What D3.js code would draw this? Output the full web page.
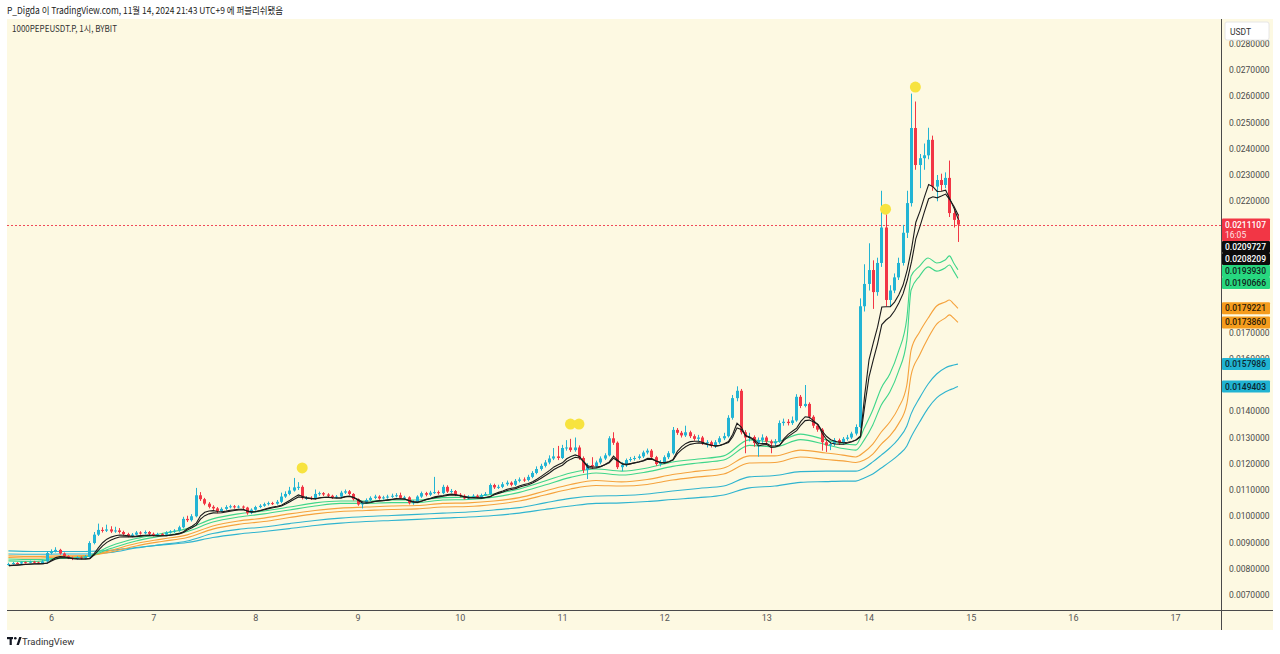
<!DOCTYPE html>
<html><head><meta charset="utf-8">
<script src="https://cdn.jsdelivr.net/npm/d3@7"></script>
<style>
html,body{margin:0;padding:0;background:#fff;}
svg{display:block;font-family:Roboto,"Noto Sans","Noto Sans CJK KR",sans-serif;}
</style></head><body>
<svg id="c" width="1280" height="654"></svg>
<script>
// ---------- DATA (hourly candles, hour 0 = Nov 6 00:00, UTC+9) ----------
const startHour = -10;
const firstOpen = 0.00815;
const closes = [
0.00818,0.00822,0.00820,0.00825,0.00823,0.00827,0.00824,0.00822,0.00828,0.00860,0.00866,0.00872,
0.00858,0.00848,0.00842,0.00838,0.00843,0.00840,0.00846,0.00898,0.00930,0.00948,0.00945,0.00950,
0.00942,0.00946,0.00940,0.00932,0.00925,0.00930,0.00938,0.00935,0.00940,0.00933,0.00928,0.00932,
0.00930,0.00938,0.00942,0.00945,0.00958,0.00990,0.00985,0.01000,0.01080,0.01065,0.01048,0.01036,
0.01030,0.01020,0.01028,0.01035,0.01038,0.01034,0.01037,0.01033,0.01012,0.01025,0.01035,0.01040,
0.01046,0.01050,0.01048,0.01055,0.01075,0.01085,0.01098,0.01110,0.01112,0.01070,0.01070,0.01068,
0.01085,0.01088,0.01083,0.01078,0.01072,0.01075,0.01090,0.01095,0.01085,0.01065,0.01045,0.01052,
0.01062,0.01070,0.01075,0.01068,0.01072,0.01075,0.01078,0.01080,0.01070,0.01072,0.01050,0.01055,
0.01075,0.01088,0.01082,0.01090,0.01092,0.01088,0.01112,0.01094,0.01096,0.01082,0.01078,0.01068,
0.01075,0.01078,0.01072,0.01080,0.01085,0.01119,0.01110,0.01112,0.01122,0.01128,0.01120,0.01135,
0.01140,0.01138,0.01150,0.01165,0.01180,0.01192,0.01205,0.01220,0.01228,0.01222,0.01260,0.01262,
0.01252,0.01262,0.01222,0.01176,0.01195,0.01190,0.01205,0.01220,0.01232,0.01297,0.01280,0.01187,
0.01195,0.01214,0.01218,0.01222,0.01228,0.01243,0.01250,0.01225,0.01199,0.01205,0.01225,0.01240,
0.01329,0.01318,0.01308,0.01320,0.01305,0.01295,0.01300,0.01280,0.01282,0.01268,0.01282,0.01297,
0.01305,0.01375,0.01450,0.01478,0.01320,0.01300,0.01302,0.01279,0.01290,0.01300,0.01285,0.01278,
0.01285,0.01355,0.01360,0.01355,0.01365,0.01455,0.01420,0.01428,0.01379,0.01345,0.01330,0.01282,
0.01270,0.01275,0.01290,0.01280,0.01295,0.01300,0.01315,0.01340,0.01800,0.01885,0.01938,0.01854,
0.01965,0.02100,0.01824,0.01860,0.01910,0.01965,0.02080,0.02193,0.02479,0.02338,0.02364,0.02375,
0.02434,0.02256,0.02281,0.02262,0.02289,0.02155,0.02129,0.0211107];
const highs = [
0.00823,0.00826,0.00825,0.00829,0.00828,0.00831,0.00830,0.00827,0.00834,0.00866,0.00874,0.00882,
0.00876,0.00862,0.00851,0.00846,0.00848,0.00847,0.00852,0.00905,0.00940,0.00972,0.00958,0.00968,
0.00962,0.00960,0.00955,0.00945,0.00937,0.00936,0.00944,0.00943,0.00946,0.00944,0.00938,0.00937,
0.00936,0.00943,0.00947,0.00951,0.00964,0.00998,0.01002,0.01008,0.01108,0.01092,0.01070,0.01054,
0.01042,0.01035,0.01034,0.01042,0.01044,0.01043,0.01042,0.01041,0.01036,0.01030,0.01040,0.01046,
0.01052,0.01056,0.01055,0.01062,0.01090,0.01095,0.01112,0.01146,0.01130,0.01118,0.01077,0.01076,
0.01102,0.01094,0.01092,0.01088,0.01082,0.01081,0.01097,0.01102,0.01100,0.01088,0.01068,0.01058,
0.01068,0.01076,0.01082,0.01080,0.01078,0.01082,0.01086,0.01088,0.01090,0.01078,0.01076,0.01062,
0.01080,0.01094,0.01093,0.01097,0.01150,0.01098,0.01120,0.01118,0.01104,0.01100,0.01088,0.01083,
0.01080,0.01084,0.01083,0.01086,0.01092,0.01125,0.01124,0.01120,0.01130,0.01136,0.01133,0.01142,
0.01148,0.01148,0.01158,0.01172,0.01190,0.01200,0.01214,0.01232,0.01260,0.01268,0.01272,0.01290,
0.01295,0.01300,0.01270,0.01228,0.01202,0.01225,0.01212,0.01228,0.01240,0.01305,0.01320,0.01285,
0.01206,0.01220,0.01226,0.01230,0.01236,0.01250,0.01258,0.01256,0.01230,0.01214,0.01232,0.01248,
0.01340,0.01336,0.01325,0.01345,0.01326,0.01312,0.01310,0.01306,0.01290,0.01288,0.01290,0.01305,
0.01318,0.01385,0.01462,0.01495,0.01485,0.01328,0.01318,0.01308,0.01300,0.01312,0.01306,0.01292,
0.01294,0.01365,0.01372,0.01370,0.01380,0.01465,0.01462,0.01500,0.01434,0.01385,0.01352,0.01336,
0.01290,0.01284,0.01298,0.01296,0.01302,0.01310,0.01322,0.01350,0.01830,0.01960,0.02040,0.01975,
0.01985,0.02240,0.02150,0.01880,0.01925,0.01985,0.02110,0.02240,0.02610,0.02580,0.02380,0.02420,
0.02480,0.02450,0.02300,0.02305,0.02310,0.02355,0.02175,0.02150];
const lows = [
0.00812,0.00816,0.00817,0.00818,0.00820,0.00821,0.00821,0.00819,0.00820,0.00826,0.00855,0.00862,
0.00854,0.00843,0.00837,0.00833,0.00835,0.00836,0.00837,0.00843,0.00893,0.00925,0.00938,0.00940,
0.00936,0.00937,0.00934,0.00926,0.00920,0.00920,0.00926,0.00930,0.00931,0.00929,0.00923,0.00924,
0.00926,0.00927,0.00934,0.00937,0.00941,0.00954,0.00978,0.00980,0.00996,0.01058,0.01042,0.01030,
0.01024,0.01012,0.01015,0.01024,0.01030,0.01029,0.01030,0.01027,0.01006,0.01008,0.01021,0.01031,
0.01036,0.01041,0.01043,0.01044,0.01050,0.01070,0.01080,0.01094,0.01100,0.01064,0.01062,0.01062,
0.01064,0.01078,0.01077,0.01073,0.01066,0.01068,0.01071,0.01085,0.01080,0.01060,0.01040,0.01030,
0.01048,0.01057,0.01065,0.01063,0.01063,0.01067,0.01070,0.01072,0.01065,0.01064,0.01045,0.01044,
0.01050,0.01070,0.01076,0.01077,0.01085,0.01082,0.01084,0.01089,0.01088,0.01077,0.01072,0.01064,
0.01063,0.01070,0.01068,0.01068,0.01076,0.01082,0.01104,0.01104,0.01107,0.01116,0.01114,0.01115,
0.01129,0.01131,0.01133,0.01145,0.01160,0.01174,0.01186,0.01198,0.01214,0.01214,0.01218,0.01250,
0.01245,0.01246,0.01215,0.01165,0.01142,0.01180,0.01184,0.01198,0.01214,0.01228,0.01272,0.01180,
0.01172,0.01188,0.01208,0.01212,0.01216,0.01222,0.01236,0.01218,0.01192,0.01190,0.01200,0.01218,
0.01235,0.01310,0.01300,0.01302,0.01298,0.01288,0.01286,0.01272,0.01262,0.01262,0.01260,0.01276,
0.01290,0.01300,0.01368,0.01438,0.01312,0.01240,0.01285,0.01265,0.01227,0.01280,0.01276,0.01240,
0.01268,0.01280,0.01345,0.01346,0.01348,0.01360,0.01412,0.01415,0.01372,0.01336,0.01322,0.01250,
0.01245,0.01252,0.01268,0.01272,0.01274,0.01288,0.01294,0.01308,0.01335,0.01780,0.01860,0.01790,
0.01840,0.01950,0.01800,0.01800,0.01850,0.01900,0.01955,0.02060,0.02180,0.02320,0.02250,0.02320,
0.02360,0.02240,0.02200,0.02240,0.02250,0.02140,0.02100,0.02045];

// moving-average bands, read at these hours
const lineHours = [-10,-4,2,8,14,20,26,32,38,44,50,56,62,68,74,80,86,92,98,104,110,116,122,128,134,140,146,152,158,164,170,176,182,186,189,191,193,195,197,199,201,202,204,206,208,210,211,212,213];
const green1 = [0.00830,0.00828,0.00839,0.00845,0.00887,0.00915,0.00934,0.00953,0.00990,0.01009,0.01020,0.01035,0.01051,0.01058,0.01058,0.01062,0.01062,0.01071,0.01073,0.01085,0.01104,0.01134,0.01165,0.01180,0.01172,0.01184,0.01207,0.01218,0.01230,0.01291,0.01283,0.01313,0.01291,0.01275,0.01272,0.01336,0.01405,0.01489,0.01542,0.01626,0.01755,0.01915,0.01953,0.01984,0.01965,0.01976,0.01992,0.01965,0.0193930];
const green2 = [0.00837,0.00835,0.00841,0.00845,0.00877,0.00906,0.00925,0.00942,0.00978,0.00997,0.01009,0.01024,0.01039,0.01049,0.01049,0.01052,0.01052,0.01062,0.01064,0.01073,0.01091,0.01119,0.01148,0.01165,0.01157,0.01169,0.01190,0.01203,0.01214,0.01270,0.01264,0.01292,0.01273,0.01258,0.01252,0.01291,0.01348,0.01424,0.01473,0.01550,0.01671,0.01862,0.01915,0.01950,0.01934,0.01946,0.01957,0.01934,0.0190666];
const orange1 = [0.00843,0.00841,0.00845,0.00847,0.00870,0.00896,0.00913,0.00929,0.00963,0.00982,0.00993,0.01009,0.01022,0.01031,0.01035,0.01039,0.01041,0.01049,0.01051,0.01058,0.01071,0.01096,0.01121,0.01136,0.01131,0.01140,0.01159,0.01172,0.01184,0.01230,0.01230,0.01252,0.01241,0.01233,0.01226,0.01245,0.01275,0.01321,0.01359,0.01412,0.01500,0.01633,0.01702,0.01755,0.01801,0.01816,0.01824,0.01809,0.0179221];
const orange2 = [0.00849,0.00847,0.00849,0.00850,0.00864,0.00887,0.00904,0.00919,0.00951,0.00969,0.00980,0.00995,0.01009,0.01018,0.01022,0.01026,0.01028,0.01035,0.01037,0.01045,0.01058,0.01081,0.01104,0.01117,0.01115,0.01121,0.01138,0.01150,0.01161,0.01203,0.01205,0.01226,0.01216,0.01211,0.01205,0.01214,0.01237,0.01275,0.01306,0.01351,0.01428,0.01538,0.01614,0.01679,0.01732,0.01755,0.01767,0.01755,0.0173860];
const cyan1 = [0.00856,0.00855,0.00856,0.00856,0.00862,0.00879,0.00892,0.00906,0.00934,0.00950,0.00959,0.00972,0.00984,0.00993,0.00999,0.01003,0.01007,0.01012,0.01016,0.01024,0.01033,0.01051,0.01068,0.01077,0.01079,0.01085,0.01096,0.01106,0.01115,0.01150,0.01155,0.01170,0.01172,0.01172,0.01172,0.01184,0.01207,0.01233,0.01260,0.01294,0.01344,0.01390,0.01451,0.01504,0.01542,0.01565,0.01572,0.01576,0.0157986];
const cyan2 = [0.00868,0.00866,0.00866,0.00866,0.00870,0.00881,0.00891,0.00900,0.00919,0.00932,0.00942,0.00953,0.00965,0.00974,0.00980,0.00984,0.00988,0.00993,0.00997,0.01003,0.01012,0.01026,0.01039,0.01049,0.01051,0.01056,0.01064,0.01071,0.01081,0.01108,0.01115,0.01129,0.01132,0.01134,0.01134,0.01146,0.01161,0.01184,0.01207,0.01233,0.01268,0.01302,0.01359,0.01412,0.01451,0.01473,0.01481,0.01487,0.0149403];
const blackLengths = [5, 7];          // EMA lengths of the black pair (on lows)

const markerHours = [59, 122, 124, 196, 203];
const markerPrices = [0.01184, 0.01351, 0.01351, 0.02170, 0.02635];

const yTicks = [0.007,0.008,0.009,0.010,0.011,0.012,0.013,0.014,0.015,0.016,0.017,0.018,0.019,0.020,0.021,0.022,0.023,0.024,0.025,0.026,0.027,0.028];
const xTickDays = [6,7,8,9,10,11,12,13,14,15,16,17];
const lastPrice = 0.0211107, countdown = "16:05";
const blackLast = [0.0209727, 0.0208209];
const headerText = "P_Digda 이 TradingView.com, 11월 14, 2024 21:43 UTC+9 에 퍼블리쉬됐음";
const symbolText = "1000PEPEUSDT.P, 1시, BYBIT";

// ---------- CHART ----------
const UP = "#22b4d4", DOWN = "#f23645";
const svg = d3.select("#c");
const L = 7, R = 1221, T = 19, B = 610;
const base = Date.UTC(2024, 10, 6), HR = 3600e3;
const t = h => new Date(base + h * HR);
const x = d3.scaleUtc().domain([t(-10.33), t(274.78)]).range([L, R]);
const y = d3.scaleLinear().domain([0.006429, 0.028943]).range([B, T]);

svg.append("rect").attr("width",1280).attr("height",654).attr("fill","#fff");
svg.append("rect").attr("x",L).attr("y",T).attr("width",1266).attr("height",630-T).attr("fill","#fdf9e2");

svg.append("text").attr("x",7).attr("y",13.5).attr("font-size",9.5).attr("fill","#222")
  .attr("textLength",276).attr("lengthAdjust","spacingAndGlyphs")
  .attr("font-family","'Noto Sans CJK KR','Noto Sans',sans-serif").text(headerText);

svg.append("clipPath").attr("id","pc").append("rect").attr("x",L).attr("y",T).attr("width",R-L).attr("height",B-T);
const plot = svg.append("g").attr("clip-path","url(#pc)");

svg.append("text").attr("x",12).attr("y",32).attr("font-size",9).attr("fill","#333")
  .attr("textLength",105).attr("lengthAdjust","spacingAndGlyphs")
  .attr("font-family","'Noto Sans CJK KR','Noto Sans',sans-serif").text(symbolText);

// price line (dotted red)
plot.append("line").attr("x1",L).attr("x2",R).attr("y1",Math.round(y(lastPrice))+0.5).attr("y2",Math.round(y(lastPrice))+0.5)
  .attr("stroke","#f04a58").attr("stroke-width",1).attr("stroke-dasharray","2,2");

// band lines
const lineGen = vals => d3.line().x((d,i)=>x(t(lineHours[i]))).y(d=>y(d)).curve(d3.curveMonotoneX)(vals);
[[cyan2,"#2fb4cf"],[cyan1,"#2fb4cf"],[orange2,"#f5a23c"],[orange1,"#f5a23c"],[green2,"#3fd68a"],[green1,"#3fd68a"]].forEach(([v,c])=>{
  plot.append("path").attr("d",lineGen(v)).attr("fill","none").attr("stroke",c).attr("stroke-width",1.1);
});

// candles
const candles = closes.map((c,i)=>({h:startHour+i, o: i? closes[i-1] : firstOpen, c, hi:highs[i], lo:lows[i]}));
const cg = plot.append("g");
candles.forEach(d=>{
  const cx = Math.round(x(t(d.h)));
  const col = d.c >= d.o ? UP : DOWN;
  cg.append("rect").attr("x",cx).attr("width",1).attr("y",y(d.hi)).attr("height",Math.max(1,y(d.lo)-y(d.hi))).attr("fill",col);
  const top = y(Math.max(d.o,d.c)), bot = y(Math.min(d.o,d.c));
  cg.append("rect").attr("x",cx-1).attr("width",3).attr("y",top).attr("height",Math.max(1,bot-top)).attr("fill",col);
});

// black pair: EMAs of candle lows
function ema(vals, n){ const a = 2/(n+1); let p = vals[0]; return vals.map(v => p = p + a*(v-p)); }
blackLengths.forEach(n=>{
  const e = ema(lows, n);
  plot.append("path").attr("d", d3.line().x((d,i)=>x(t(startHour+i))+0.5).y(d=>y(d))(e))
    .attr("fill","none").attr("stroke","#1b1b1b").attr("stroke-width",1.1);
});

// markers
markerHours.forEach((h,i)=>{
  plot.append("circle").attr("cx",x(t(h))).attr("cy",y(markerPrices[i])).attr("r",5.5).attr("fill","#f7e33f");
});

// axes frame
svg.append("line").attr("x1",R+0.5).attr("x2",R+0.5).attr("y1",T).attr("y2",630).attr("stroke","#4a4a4a");
svg.append("line").attr("x1",L).attr("x2",1273).attr("y1",B+0.5).attr("y2",B+0.5).attr("stroke","#4a4a4a");

// price labels with stacking (computed first so covered ticks can be hidden)
const labels = [
  {v:lastPrice, bg:DOWN, fg:"#fff", extra:countdown},
  {v:blackLast[0], bg:"#0c0c0c", fg:"#fff"},
  {v:blackLast[1], bg:"#0c0c0c", fg:"#fff"},
  {v:green1[green1.length-1], bg:"#27d77f", fg:"#10231a"},
  {v:green2[green2.length-1], bg:"#27d77f", fg:"#10231a"},
  {v:orange1[orange1.length-1], bg:"#f59c1d", fg:"#2a1a05"},
  {v:orange2[orange2.length-1], bg:"#f59c1d", fg:"#2a1a05"},
  {v:cyan1[cyan1.length-1], bg:"#20b3d2", fg:"#0b2630"},
  {v:cyan2[cyan2.length-1], bg:"#20b3d2", fg:"#0b2630"}
];
let prevBottom = -Infinity;
labels.forEach(lb=>{
  lb.h = lb.extra ? 22.5 : 12;
  lb.top = Math.max(y(lb.v) - 6, prevBottom);
  prevBottom = lb.top + lb.h;
});
const covered = v => labels.some(lb => y(v) > lb.top + 1 && y(v) < lb.top + lb.h + 1);

const ya = svg.append("g").attr("transform",`translate(${R},0)`)
  .call(d3.axisRight(y).tickValues(yTicks.filter(v=>!covered(v))).tickFormat(d3.format(".7f")).tickSize(0).tickPadding(8));
ya.select(".domain").remove();
ya.selectAll("text").attr("font-size",8.5).attr("fill","#4a4a4a").attr("font-family","Roboto,sans-serif");

const xa = svg.append("g").attr("transform",`translate(0,${B})`)
  .call(d3.axisBottom(x).tickValues(xTickDays.map(d=>new Date(Date.UTC(2024,10,d)))).tickFormat(d=>d.getUTCDate()).tickSize(0).tickPadding(5));
xa.select(".domain").remove();
xa.selectAll("text").attr("font-size",9).attr("fill","#555").attr("font-family","Roboto,sans-serif");

// USDT box
svg.append("rect").attr("x",1225).attr("y",22).attr("width",44).attr("height",18).attr("fill","#fff").attr("stroke","#e6e6e6").attr("rx",2);
svg.append("text").attr("x",1230).attr("y",34.5).attr("font-size",8.5).attr("fill","#333").text("USDT");

labels.forEach(lb=>{
  svg.append("rect").attr("x",1222).attr("y",lb.top).attr("width",48).attr("height",lb.h).attr("fill",lb.bg).attr("rx",1);
  svg.append("text").attr("x",1225).attr("y",lb.top+9).attr("font-size",8.5).attr("font-weight",500).attr("fill",lb.fg).text(d3.format(".7f")(lb.v));
  if (lb.extra) svg.append("text").attr("x",1225).attr("y",lb.top+19.5).attr("font-size",8.5).attr("fill","#fde3e6").text(lb.extra);
});

// footer logo
const lg = svg.append("g").attr("transform","translate(7,636)");
lg.append("rect").attr("x",0).attr("y",1).attr("width",6).attr("height",2.2).attr("fill","#131722");
lg.append("rect").attr("x",2.6).attr("y",1).attr("width",2.2).attr("height",8).attr("fill","#131722");
lg.append("circle").attr("cx",8.3).attr("cy",2.3).attr("r",1.3).attr("fill","#131722");
lg.append("path").attr("d","M9.5,9 L12.2,1 L14.6,1 L11.9,9 Z").attr("fill","#131722");
svg.append("text").attr("x",22).attr("y",644.5).attr("font-size",9.5).attr("fill","#333").text("TradingView");
</script></body></html>
